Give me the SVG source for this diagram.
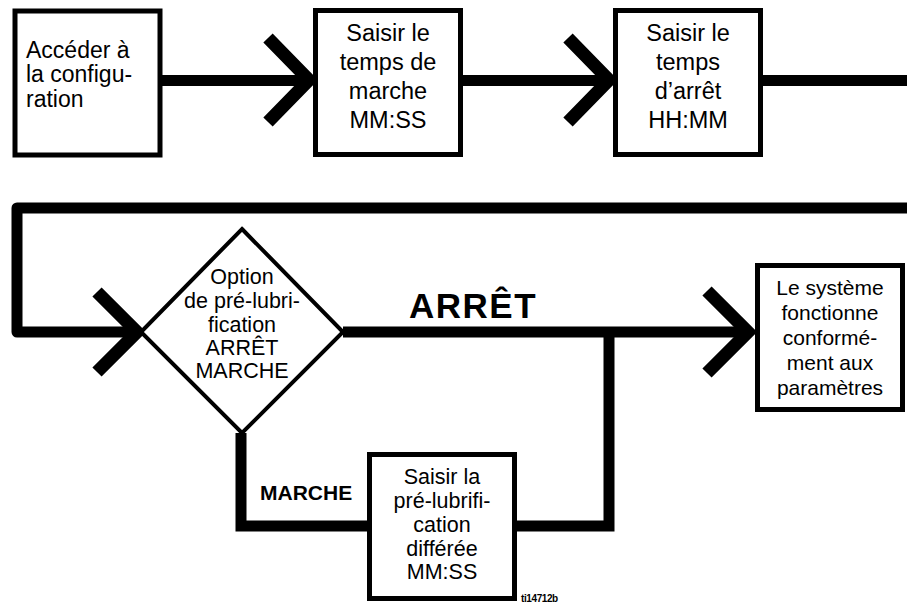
<svg xmlns="http://www.w3.org/2000/svg" width="907" height="606" viewBox="0 0 907 606">
<style>
.ln{fill:none;stroke:#000;stroke-width:11;stroke-linejoin:miter;stroke-linecap:butt}
.chev{fill:none;stroke:#000;stroke-width:13;stroke-linejoin:miter;stroke-linecap:butt}
.box{fill:#fff;stroke:#000;stroke-width:5}
.dia{fill:#fff;stroke:#000;stroke-width:4}
.t{font-family:"Liberation Sans",Arial,Helvetica,sans-serif;fill:#000}
.c{text-anchor:middle}
.b{font-weight:bold}
</style>
<rect width="907" height="606" fill="#fff"/>
<g id="connectors">
  <line class="ln" x1="160" y1="80.5" x2="309" y2="80.5"/>
  <polyline class="chev" points="268,38 309,80 268,122"/>
  <line class="ln" x1="460" y1="80.5" x2="609" y2="80.5"/>
  <polyline class="chev" points="568,38 609,80 568,122"/>
  <line class="ln" x1="760" y1="80.5" x2="907" y2="80.5"/>
  <path class="ln" d="M907,208 H17 V332 H136" style="stroke-linejoin:round"/>
  <polyline class="chev" points="97,292 137,332 97,372"/>
  <line class="ln" x1="343" y1="332" x2="748" y2="332"/>
  <polyline class="chev" points="707,291 748,332 707,373"/>
  <path class="ln" d="M241,433 V526 H370"/>
  <path class="ln" d="M514,526 H609 V332"/>
</g>
<g id="n1">
  <rect class="box" x="15" y="11" width="145" height="144"/>
  <text class="t" font-size="23"><tspan x="26" y="58">Accéder à</tspan><tspan x="26" y="82">la configu-</tspan><tspan x="26" y="107">ration</tspan></text>
</g>
<g id="n2">
  <rect class="box" x="315.5" y="10.5" width="145" height="144"/>
  <text class="t c" font-size="23.5"><tspan x="388" y="41">Saisir le</tspan><tspan x="388" y="70">temps de</tspan><tspan x="388" y="99">marche</tspan><tspan x="388" y="128">MM:SS</tspan></text>
</g>
<g id="n3">
  <rect class="box" x="615.5" y="10.5" width="145" height="144"/>
  <text class="t c" font-size="23.5"><tspan x="688" y="41">Saisir le</tspan><tspan x="688" y="70">temps</tspan><tspan x="688" y="99">d’arrêt</tspan><tspan x="688" y="128">HH:MM</tspan></text>
</g>
<g id="n4">
  <polygon class="dia" points="242,229 343,332 242,433 141,332"/>
  <text class="t c" font-size="21.5"><tspan x="242" y="284">Option</tspan><tspan x="242" y="308">de pré-lubri-</tspan><tspan x="242" y="332">fication</tspan><tspan x="242" y="355">ARRÊT</tspan><tspan x="242" y="378">MARCHE</tspan></text>
</g>
<g id="n5">
  <rect class="box" x="757.5" y="265.5" width="145" height="144"/>
  <text class="t c" font-size="21"><tspan x="830" y="295">Le système</tspan><tspan x="830" y="320">fonctionne</tspan><tspan x="830" y="345">conformé-</tspan><tspan x="830" y="370">ment aux</tspan><tspan x="830" y="395">paramètres</tspan></text>
</g>
<g id="n6">
  <rect class="box" x="369.5" y="454.5" width="145" height="144"/>
  <text class="t c" font-size="21.5"><tspan x="442" y="484">Saisir la</tspan><tspan x="442" y="508">pré-lubrifi-</tspan><tspan x="442" y="532">cation</tspan><tspan x="442" y="556">différée</tspan><tspan x="442" y="579">MM:SS</tspan></text>
</g>
<text class="t b" font-size="35" x="409" y="318" letter-spacing="1.5">ARRÊT</text>
<text class="t b" font-size="21" x="260" y="500">MARCHE</text>
<text class="t b" font-size="10" x="521" y="602" letter-spacing="-0.4">ti14712b</text>
</svg>
